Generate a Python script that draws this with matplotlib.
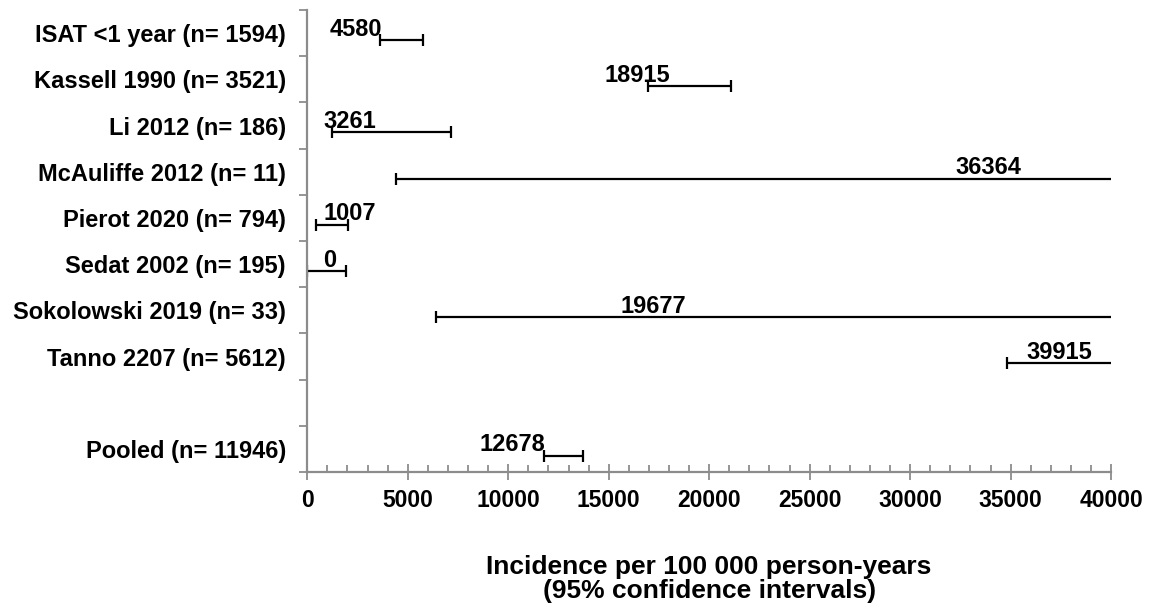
import matplotlib
matplotlib.use("Agg")
import matplotlib.pyplot as plt
from matplotlib.ticker import MultipleLocator

plt.rcParams['font.family'] = ['Liberation Sans', 'DejaVu Sans']
plt.rcParams['font.weight'] = 'bold'

# studies (top to bottom), an empty row, then the pooled estimate
studies = ["ISAT <1 year (n= 1594)", "Kassell 1990 (n= 3521)", "Li 2012 (n= 186)",
           "McAuliffe 2012 (n= 11)", "Pierot 2020 (n= 794)", "Sedat 2002 (n= 195)",
           "Sokolowski 2019 (n= 33)", "Tanno 2207 (n= 5612)", "", "Pooled (n= 11946)"]
estimate = [4580, 18915, 3261, 36364, 1007, 0, 19677, 39915, None, 12678]
ci_low = [3620, 16940, 1210, 4410, 430, 0, 6390, 34800, None, 11770]
ci_high = [5770, 21070, 7130, 120000, 2010, 1930, 95000, 45300, None, 13730]

GRAY = "#8c8c8c"
FS = 17

fig = plt.figure(figsize=(11.57, 6.15), dpi=100)
ax = fig.add_axes([0.2656, 0.2325, 0.6947, 0.7512])

rows = [i for i, e in enumerate(estimate) if e is not None]
est = [estimate[i] for i in rows]
lo = [estimate[i] - ci_low[i] for i in rows]
hi = [ci_high[i] - estimate[i] for i in rows]
line_y = [i + 0.15 for i in rows]  # bars sit a little below the row centre

ax.errorbar(est, line_y, xerr=[lo, hi], fmt='none', ecolor='black',
            elinewidth=1.6, capsize=4.2, capthick=1.6)

ax.set_xlim(0, 40000)
ax.set_ylim(len(studies) - 0.5, -0.5)

# value labels: right edge 17 px left of the estimate, pushed right if it would cross the axis
labels = []
for i, e in zip(rows, est):
    t = ax.annotate(str(e), xy=(e, i + 0.15), xytext=(-17, 11), textcoords='offset pixels',
                    ha='right', va='center', fontsize=FS, fontweight='bold')
    labels.append((t, i))
fig.canvas.draw()
x_axis0 = ax.transData.transform((0, 0))[0]
for t, i in labels:
    bb = t.get_window_extent()
    if bb.x0 < x_axis0 + 16:
        t.xy = (0, i + 0.15)
        t.set_position((16, 11))
        t.set_ha('left')

# y axis: ticks on the row boundaries, labels on the rows
ax.set_yticks([i - 0.5 for i in range(len(studies) + 1)])
ax.set_yticklabels([])
ax.set_yticks(range(len(studies)), minor=True)
ax.set_yticklabels(studies, minor=True, fontsize=FS, fontweight='bold')
ax.tick_params(axis='y', which='major', direction='out', length=6, width=1.3, color=GRAY)
ax.tick_params(axis='y', which='minor', length=0, pad=15.5)

ax.xaxis.set_major_locator(MultipleLocator(5000))
ax.xaxis.set_minor_locator(MultipleLocator(1000))
ax.tick_params(axis='x', which='major', direction='inout', length=12, width=1.3, color=GRAY,
               labelsize=FS - 0.5, pad=6)
ax.tick_params(axis='x', which='minor', direction='in', length=5, width=1.3, color=GRAY)
for lab in ax.get_xticklabels():
    lab.set_fontweight('bold')

for s in ['top', 'right']:
    ax.spines[s].set_visible(False)
for s in ['left', 'bottom']:
    ax.spines[s].set_color(GRAY)
    ax.spines[s].set_linewidth(1.6)
    ax.spines[s].set_zorder(3)

ax.set_xlabel("Incidence per 100 000 person-years\n(95% confidence intervals)",
              fontsize=19, fontweight='bold', labelpad=31, linespacing=1.02)

fig.savefig("out.png", dpi=100)
